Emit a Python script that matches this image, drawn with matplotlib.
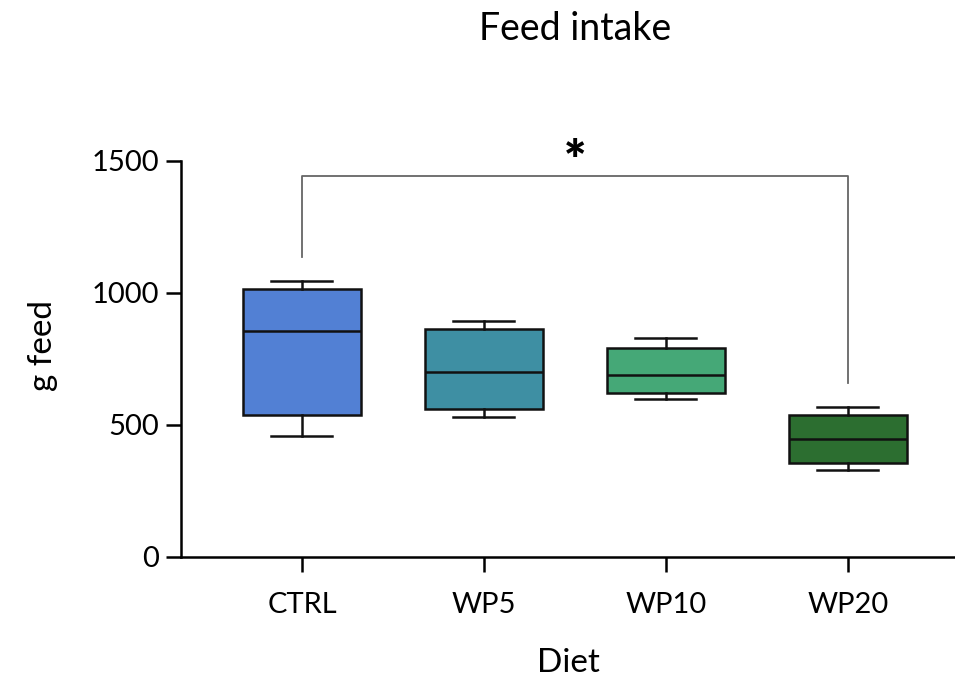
import matplotlib.pyplot as plt

plt.rcParams['font.family'] = ['Lato', 'DejaVu Sans']

diets = ["CTRL", "WP5", "WP10", "WP20"]
whis_lo = [458, 530, 598, 330]
q1 = [538, 561, 621, 356]
med = [856, 701, 689, 447]
q3 = [1015, 864, 792, 538]
whis_hi = [1045, 894, 830, 568]
colors = ["#5280D4", "#3E8FA3", "#45A877", "#2C6E30"]

# significance bracket CTRL vs WP20
br_x = [0, 0, 3, 3]
br_y = [1136, 1443, 1443, 659]

fig = plt.figure(figsize=(9.55, 6.77), dpi=100)
ax = fig.add_axes([0.1895, 0.1773, 0.8105, 0.6239])

stats = []
for i in range(len(diets)):
    stats.append(dict(med=med[i], q1=q1[i], q3=q3[i], whislo=whis_lo[i],
                      whishi=whis_hi[i], fliers=[], label=diets[i]))

bp = ax.bxp(stats, positions=range(len(diets)), widths=0.65, capwidths=0.335,
            patch_artist=True, showfliers=False,
            boxprops=dict(linewidth=1.8, edgecolor="#111111"),
            medianprops=dict(color="#111111", linewidth=1.8),
            whiskerprops=dict(color="#111111", linewidth=1.8),
            capprops=dict(color="#111111", linewidth=1.8))
for patch, c in zip(bp['boxes'], colors):
    patch.set_facecolor(c)

ax.plot(br_x, br_y, color="#666666", linewidth=1.3)
ax.text(1.5, 1490, "*", ha="center", va="center", fontsize=38, fontweight="heavy")

ax.set_xlim(-0.665, 3.59)
ax.set_ylim(0, 1600)
ax.set_yticks([0, 500, 1000, 1500])
ax.spines['left'].set_bounds(0, 1500)
ax.spines['top'].set_visible(False)
ax.spines['right'].set_visible(False)
for s in ['left', 'bottom']:
    ax.spines[s].set_linewidth(1.8)
ax.tick_params(axis='both', length=11, width=1.8, labelsize=21)
ax.tick_params(axis='x', pad=14)
ax.tick_params(axis='y', pad=5)

ax.set_xlabel("Diet", fontsize=24, labelpad=22)
ax.set_ylabel("g feed", fontsize=24, labelpad=24)
fig.text(0.602, 0.957, "Feed intake", ha="center", va="center", fontsize=27)

plt.savefig("out.png", dpi=100)
